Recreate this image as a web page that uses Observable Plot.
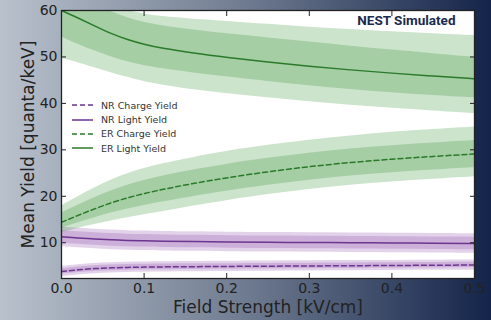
<!DOCTYPE html>
<html>
<head>
<meta charset="utf-8">
<script src="https://cdn.jsdelivr.net/npm/d3@7"></script>
<script src="https://cdn.jsdelivr.net/npm/@observablehq/plot@0.6"></script>
<style>
  html, body { margin: 0; padding: 0; }
  #wrap { position: relative; width: 491px; height: 320px; overflow: hidden;
    background: linear-gradient(90deg, #b9c1cc 0%, #6f7b90 50%, #14244a 100%); }
  #legend { position: absolute; left: 72px; top: 98px; font-family: "DejaVu Sans", sans-serif;
    font-size: 9.5px; color: #333; }
  .row { display: flex; align-items: center; height: 14.4px; }
  .row svg { margin-right: 8px; }
</style>
</head>
<body>
<div id="wrap"><div id="legend"></div></div>
<script>
// Field strength grid [kV/cm]
const field = [0, 0.02, 0.04, 0.06, 0.08, 0.1, 0.12, 0.16, 0.2, 0.25, 0.3, 0.35, 0.4, 0.45, 0.5];

// ER Light Yield
const erLightMean  = [60, 58.4, 56.7, 55.0, 53.7, 52.7, 51.9, 50.8, 49.9, 48.9, 48.0, 47.2, 46.5, 45.9, 45.3];
const erLightInLo  = [54.3, 52.7, 51.3, 50.0, 48.9, 48.1, 47.5, 46.5, 45.7, 44.7, 43.8, 43.0, 42.3, 41.7, 41.2];
const erLightInHi  = [65, 63, 61.2, 59.7, 58.4, 57.4, 56.7, 55.8, 55.0, 54.1, 53.2, 52.3, 51.5, 50.7, 49.9];
const erLightOutLo = [49.7, 48.8, 47.7, 46.6, 45.6, 44.7, 44.0, 42.9, 42.1, 41.2, 40.3, 39.6, 38.9, 38.4, 37.8];
const erLightOutHi = [66, 64.5, 62.9, 61.3, 60.0, 59.2, 58.7, 58.1, 57.7, 57.0, 56.4, 55.9, 55.4, 55.0, 54.6];

// ER Charge Yield
const erChargeMean  = [14.4, 15.9, 17.3, 18.6, 19.7, 20.6, 21.4, 22.8, 24.0, 25.3, 26.4, 27.3, 28.0, 28.6, 29.1];
const erChargeInLo  = [13.1, 14.3, 15.4, 16.4, 17.3, 18.0, 18.7, 20.0, 21.1, 22.4, 23.5, 24.4, 25.1, 25.7, 26.2];
const erChargeInHi  = [16.4, 18.1, 19.7, 21.2, 22.4, 23.4, 24.3, 25.7, 26.9, 28.2, 29.3, 30.2, 30.9, 31.5, 32.0];
const erChargeOutLo = [12.2, 13.1, 13.9, 14.7, 15.4, 16.0, 16.6, 17.9, 19.1, 20.4, 21.5, 22.4, 23.1, 23.7, 24.2];
const erChargeOutHi = [17.9, 19.9, 21.8, 23.5, 24.9, 26.0, 26.9, 28.4, 29.7, 31.0, 32.1, 33.0, 33.8, 34.4, 34.9];

// NR Light Yield
const nrLightMean  = [11.3, 11.0, 10.8, 10.6, 10.5, 10.4, 10.35, 10.25, 10.15, 10.1, 10.05, 10.0, 9.95, 9.9, 9.85];
const nrLightInLo  = [9.95, 9.65, 9.45, 9.25, 9.15, 9.05, 9.0, 8.9, 8.8, 8.75, 8.7, 8.65, 8.6, 8.55, 8.5];
const nrLightInHi  = [12.65, 12.35, 12.15, 11.95, 11.85, 11.75, 11.7, 11.6, 11.5, 11.45, 11.4, 11.35, 11.3, 11.25, 11.2];
const nrLightOutLo = [9.2, 8.9, 8.7, 8.5, 8.4, 8.3, 8.25, 8.15, 8.05, 8.0, 7.95, 7.9, 7.85, 7.8, 7.75];
const nrLightOutHi = [13.4, 13.1, 12.9, 12.7, 12.6, 12.5, 12.45, 12.35, 12.25, 12.2, 12.15, 12.1, 12.05, 12.0, 11.95];

// NR Charge Yield
const nrChargeMean  = [3.8, 4.2, 4.45, 4.6, 4.7, 4.75, 4.8, 4.85, 4.9, 4.95, 5.0, 5.05, 5.1, 5.15, 5.2];
const nrChargeInLo  = [3.2, 3.6, 3.85, 4.0, 4.1, 4.15, 4.2, 4.25, 4.3, 4.35, 4.4, 4.45, 4.5, 4.55, 4.6];
const nrChargeInHi  = [4.4, 4.8, 5.05, 5.2, 5.3, 5.35, 5.4, 5.45, 5.5, 5.55, 5.6, 5.65, 5.7, 5.75, 5.8];
const nrChargeOutLo = [2.7, 3.1, 3.35, 3.5, 3.6, 3.65, 3.7, 3.75, 3.8, 3.85, 3.9, 3.95, 4.0, 4.05, 4.1];
const nrChargeOutHi = [4.9, 5.3, 5.55, 5.7, 5.8, 5.85, 5.9, 5.95, 6.0, 6.05, 6.1, 6.15, 6.2, 6.25, 6.3];

const xTicks = [0, 0.1, 0.2, 0.3, 0.4, 0.5];
const yTicks = [10, 20, 30, 40, 50, 60];
const seriesNames = ["NR Charge Yield", "NR Light Yield", "ER Charge Yield", "ER Light Yield"];

const GREEN_BAND = "rgb(44,140,44)", GREEN_LINE = "#2a7a2a";
const PURPLE_BAND = "rgb(122,45,155)", PURPLE_LINE = "#6b3590";

const series = [
  {name: seriesNames[0], mean: nrChargeMean, inLo: nrChargeInLo, inHi: nrChargeInHi, outLo: nrChargeOutLo, outHi: nrChargeOutHi, band: PURPLE_BAND, line: PURPLE_LINE, dash: "5,3", op: 0.21},
  {name: seriesNames[1], mean: nrLightMean, inLo: nrLightInLo, inHi: nrLightInHi, outLo: nrLightOutLo, outHi: nrLightOutHi, band: PURPLE_BAND, line: PURPLE_LINE, dash: null, op: 0.21},
  {name: seriesNames[2], mean: erChargeMean, inLo: erChargeInLo, inHi: erChargeInHi, outLo: erChargeOutLo, outHi: erChargeOutHi, band: GREEN_BAND, line: GREEN_LINE, dash: "5,3", op: 0.245},
  {name: seriesNames[3], mean: erLightMean, inLo: erLightInLo, inHi: erLightInHi, outLo: erLightOutLo, outHi: erLightOutHi, band: GREEN_BAND, line: GREEN_LINE, dash: null, op: 0.245}
];

const bandMarks = [], lineMarks = [];
for (const s of series) {
  const rows = field.map((x, i) => ({x, m: s.mean[i], a: s.inLo[i], b: s.inHi[i], c: s.outLo[i], d: s.outHi[i]}));
  bandMarks.push(Plot.areaY(rows, {x: "x", y1: "c", y2: "d", fill: s.band, fillOpacity: s.op, curve: "basis", clip: true}));
  bandMarks.push(Plot.areaY(rows, {x: "x", y1: "a", y2: "b", fill: s.band, fillOpacity: s.op, curve: "basis", clip: true}));
  lineMarks.push(Plot.lineY(rows, {x: "x", y: "m", stroke: s.line, strokeWidth: 1.5, strokeDasharray: s.dash, curve: "basis", clip: true}));
}

const plot = Plot.plot({
  width: 491, height: 320,
  marginLeft: 61, marginRight: 17, marginTop: 10, marginBottom: 42,
  style: {background: "transparent", fontFamily: "DejaVu Sans, sans-serif", fontSize: "14px", color: "#222", overflow: "visible"},
  x: {domain: [0, 0.5]},
  y: {domain: [2.3, 60]},
  marks: [
    Plot.frame({fill: "white"}),
    ...bandMarks,
    ...lineMarks,
    Plot.frame({stroke: "#222", strokeWidth: 1.3}),
    Plot.axisX(xTicks, {anchor: "bottom", tickSize: 0, tickPadding: 5, tickFormat: d => d.toFixed(1), label: null, fontSize: 14, fill: "#222"}),
    Plot.axisX(xTicks.slice(1, -1), {anchor: "bottom", tickSize: 5, dy: -5, text: null, label: null, stroke: "#222"}),
    Plot.axisX(xTicks.slice(1, -1), {anchor: "top", tickSize: 5, dy: 5, text: null, label: null, stroke: "#222"}),
    Plot.axisY(yTicks, {anchor: "left", tickSize: 0, tickPadding: 4, label: null, fontSize: 14, fill: "#222"}),
    Plot.axisY(yTicks.slice(0, -1), {anchor: "left", tickSize: 5, dx: 5, text: null, label: null, stroke: "#222"}),
    Plot.axisY(yTicks.slice(0, -1), {anchor: "right", tickSize: 5, dx: -5, text: null, label: null, stroke: "#222"}),
    Plot.text(["Mean Yield [quanta/keV]"], {frameAnchor: "left", rotate: -90, dx: -33, fontSize: 17, fill: "#222", lineAnchor: "middle", textAnchor: "middle"}),
    Plot.text(["Field Strength [kV/cm]"], {frameAnchor: "bottom", dy: 29, fontSize: 17, fill: "#222", lineAnchor: "middle", textAnchor: "middle"}),
    Plot.text(["NEST Simulated"], {frameAnchor: "top-right", dx: -19, dy: 14, fontSize: 13.5, fontWeight: "bold", fontFamily: "Roboto", fill: "#1a2b50", textAnchor: "end", lineAnchor: "bottom"})
  ]
});
document.getElementById("wrap").prepend(plot);

// legend
const legend = document.getElementById("legend");
for (const s of series) {
  const row = document.createElement("div");
  row.className = "row";
  const dash = s.dash ? `stroke-dasharray="5,3"` : "";
  row.innerHTML = `<svg width="21" height="6"><line x1="0" x2="21" y1="3" y2="3" stroke="${s.line}" stroke-width="1.5" ${dash}/></svg><span>${s.name}</span>`;
  legend.appendChild(row);
}
</script>
</body>
</html>
